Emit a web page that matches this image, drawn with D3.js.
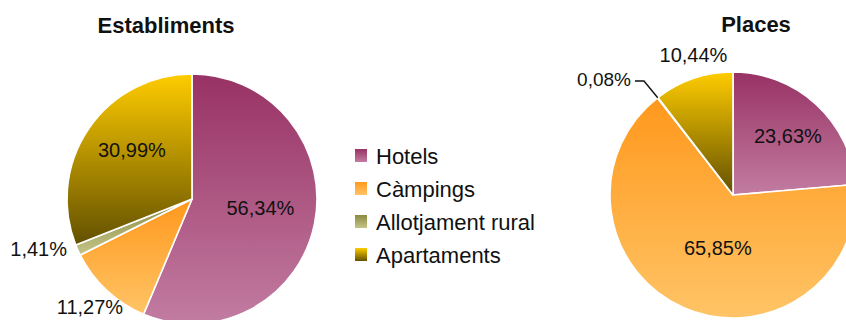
<!DOCTYPE html>
<html>
<head>
<meta charset="utf-8">
<script src="https://cdn.jsdelivr.net/npm/d3@7"></script>
<style>
  html, body { margin: 0; padding: 0; background: #fff; }
  svg { display: block; }
  text { font-family: "Liberation Sans", Arial, sans-serif; fill: #111; }
</style>
</head>
<body>
<svg id="chart" width="846" height="320"></svg>
<script>
// Share of establishments and of places by accommodation type (%)
const categories = ["Hotels", "Càmpings", "Allotjament rural", "Apartaments"];
const establiments = [56.34, 11.27, 1.41, 30.99];
const places = [23.63, 65.85, 0.08, 10.44];
const titles = ["Establiments", "Places"];

// Vertical gradient stops per category (top colour, bottom colour)
const gradStops = [
  ["#983264", "#c27ca2"],
  ["#ff981c", "#ffc466"],
  ["#8a8a40", "#c4c488"],
  ["#ffcc00", "#625000"]
];

const svg = d3.select("#chart");
const defs = svg.append("defs");

categories.forEach((c, i) => {
  const g = defs.append("linearGradient")
    .attr("id", "grad" + i)
    .attr("x1", 0).attr("y1", 0).attr("x2", 0).attr("y2", 1);
  g.append("stop").attr("offset", "0%").attr("stop-color", gradStops[i][0]);
  g.append("stop").attr("offset", "100%").attr("stop-color", gradStops[i][1]);
});

const locale = d3.formatLocale({ decimal: ",", thousands: ".", grouping: [3], currency: ["", "€"] });
const fmt = v => locale.format(".2f")(v) + "%";

const pie = d3.pie().sort(null).value(d => d);

// Layout of each pie: centre, radius, and label placement per slice
// (radial factor along the slice's mid angle, plus a pixel nudge)
const pies = [
  {
    values: establiments, title: titles[0], cx: 192, cy: 199, r: 125,
    titleX: 166, titleY: 33,
    labels: [
      { rf: 0.55, dx: 1, dy: -5 },
      { rf: 1.23, dx: 3, dy: -4 },
      { rf: 1.30, dx: -5, dy: -16 },
      { rf: 0.62, dx: 4, dy: -5 }
    ]
  },
  {
    values: places, title: titles[1], cx: 733, cy: 195, r: 123,
    titleX: 756, titleY: 32,
    labels: [
      { rf: 0.66, dx: 0, dy: 1 },
      { rf: 0.45, dx: 7, dy: 2 },
      { leader: true, lx: 604, ly: 79 },
      { rf: 1.15, dx: 6, dy: -6 }
    ]
  }
];

pies.forEach(p => {
  const arcs = pie(p.values);
  const arc = d3.arc().innerRadius(0).outerRadius(p.r);
  const g = svg.append("g").attr("transform", `translate(${p.cx},${p.cy})`);

  g.selectAll("path.slice")
    .data(arcs)
    .join("path")
    .attr("class", "slice")
    .attr("d", arc)
    .attr("fill", (d, i) => `url(#grad${i})`)
    .attr("stroke", "#fff")
    .attr("stroke-width", 1.6)
    .attr("stroke-linejoin", "round");

  arcs.forEach((d, i) => {
    const L = p.labels[i];
    const mid = (d.startAngle + d.endAngle) / 2;
    if (L.leader) {
      // label sits off to the side, joined to the slice by an elbow line
      const ex = p.r * Math.sin(mid), ey = -p.r * Math.cos(mid);
      const tx = L.lx - p.cx, ty = L.ly - p.cy;
      g.append("polyline")
        .attr("points", [[tx + 31, ty + 2], [tx + 40, ty + 2], [ex, ey]].map(q => q.join(",")).join(" "))
        .attr("fill", "none")
        .attr("stroke", "#111")
        .attr("stroke-width", 1.4);
      g.append("text")
        .attr("x", tx).attr("y", ty)
        .attr("dy", "0.35em")
        .attr("text-anchor", "middle")
        .attr("font-size", 19)
        .text(fmt(d.data));
    } else {
      const x = L.rf * p.r * Math.sin(mid) + L.dx;
      const y = -L.rf * p.r * Math.cos(mid) + L.dy;
      g.append("text")
        .attr("x", x).attr("y", y)
        .attr("dy", "0.35em")
        .attr("text-anchor", "middle")
        .attr("font-size", 20)
        .text(fmt(d.data));
    }
  });

  svg.append("text")
    .attr("x", p.titleX).attr("y", p.titleY)
    .attr("text-anchor", "middle")
    .attr("font-size", 22)
    .attr("font-weight", "bold")
    .text(p.title);
});

// Legend
const legend = svg.append("g").attr("transform", "translate(355,164)");
const rowH = 33;
categories.forEach((c, i) => {
  const row = legend.append("g").attr("transform", `translate(0,${i * rowH})`);
  row.append("rect")
    .attr("x", 0).attr("y", -15)
    .attr("width", 12).attr("height", 13)
    .attr("fill", `url(#grad${i})`);
  row.append("text")
    .attr("x", 21).attr("y", 0)
    .attr("font-size", 22)
    .text(c);
});
</script>
</body>
</html>
